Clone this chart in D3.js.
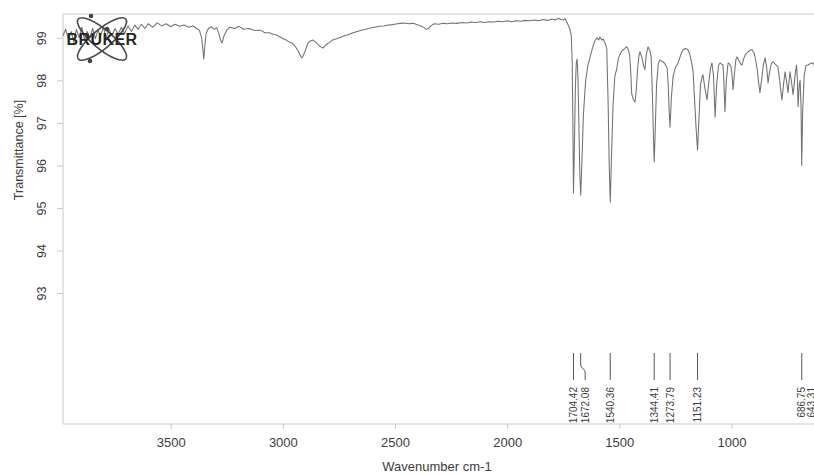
<!DOCTYPE html>
<html>
<head>
<meta charset="utf-8">
<script src="https://cdn.jsdelivr.net/npm/d3@7"></script>
<style>
  body { margin: 0; background: #fff; }
  svg { display: block; font-family: "Liberation Sans", Arial, sans-serif; }
</style>
</head>
<body>
<svg id="ir"></svg>
<script>
// spectrum (wavenumber cm-1 / transmittance %)
const wavenumber = [
  3980, 3968, 3955, 3944, 3932, 3920, 3908, 3896, 3884, 3872,
  3860, 3848, 3836, 3824, 3812, 3800, 3788, 3775, 3762, 3748,
  3734, 3720, 3705, 3690, 3675, 3660, 3645, 3630, 3615, 3600,
  3580, 3560, 3540, 3520, 3500, 3480, 3460, 3440, 3420, 3400,
  3385, 3372, 3362, 3356, 3352, 3348, 3342, 3332, 3320, 3306,
  3295, 3285, 3278, 3271, 3262, 3250, 3235, 3215, 3195, 3175,
  3150, 3125, 3100, 3080, 3060, 3040, 3025, 3012, 2998, 2985,
  2972, 2960, 2945, 2930, 2920, 2914, 2906, 2900, 2888, 2876,
  2866, 2850, 2835, 2821, 2805, 2790, 2777, 2760, 2740, 2725,
  2710, 2687, 2668, 2650, 2630, 2610, 2590, 2570, 2550, 2530,
  2510, 2490, 2475, 2460, 2440, 2420, 2400, 2385, 2370, 2360,
  2350, 2340, 2325, 2305, 2285, 2265, 2245, 2225, 2200, 2180,
  2160, 2140, 2120, 2100, 2080, 2060, 2040, 2020, 2000, 1980,
  1960, 1940, 1920, 1900, 1880, 1860, 1840, 1820, 1800, 1785,
  1770, 1760, 1750, 1742, 1735, 1728, 1720, 1714, 1710, 1707,
  1704.42, 1700, 1696, 1692, 1688, 1684, 1680, 1676, 1672.08, 1666,
  1660, 1650, 1640, 1630, 1620, 1610, 1600, 1592, 1586, 1578,
  1571, 1562, 1556, 1550, 1545, 1540.36, 1535, 1528, 1520, 1515,
  1512, 1505, 1498, 1490, 1482, 1475, 1467, 1460, 1454, 1448,
  1445, 1438, 1430, 1424, 1418, 1412, 1408, 1400, 1392, 1386,
  1380, 1372, 1364, 1358, 1352, 1348, 1344.41, 1340, 1334, 1326,
  1319, 1312, 1305, 1296, 1287, 1282, 1278, 1273.79, 1268, 1260,
  1250, 1238, 1226, 1216, 1205, 1194, 1185, 1177, 1171, 1165,
  1158, 1151.23, 1145, 1138, 1130, 1127, 1118, 1109, 1100, 1093,
  1087, 1080, 1073, 1066, 1058, 1051, 1044, 1038, 1034, 1029,
  1023, 1015, 1008, 1002, 997, 993, 986, 980, 975, 965,
  958, 953, 946, 939, 930, 920, 908, 900, 895, 885,
  878, 873, 866, 858, 850, 843, 837, 830, 822, 815,
  805, 793, 785, 779, 775, 768, 761, 755, 748, 743,
  739, 732, 725, 717, 710, 706, 703, 698, 694, 690,
  686.75, 683, 676, 668, 658, 648, 636, 625, 615, 605
];
const transmittance = [
  99.05, 99.2, 98.95, 99.15, 98.9, 99.2, 99.0, 99.25, 98.95, 99.15,
  99.0, 99.22, 98.98, 99.18, 99.05, 99.25, 99.0, 99.2, 99.05, 99.22,
  99.08, 99.25, 99.1, 99.28, 99.15, 99.3, 99.2, 99.32, 99.22, 99.33,
  99.25, 99.35, 99.28, 99.33, 99.26, 99.32, 99.27, 99.3, 99.25, 99.28,
  99.22, 99.18, 99.0, 98.7, 98.5, 98.8, 99.1, 99.22, 99.26, 99.2,
  99.24, 99.1, 98.95, 98.88, 99.05, 99.18, 99.25, 99.22, 99.27, 99.2,
  99.22, 99.17, 99.18, 99.12, 99.12, 99.08, 99.06, 99.02, 98.98, 98.95,
  98.9, 98.88, 98.8, 98.68, 98.56, 98.53, 98.62, 98.7, 98.88, 98.93,
  98.95, 98.88, 98.8, 98.76, 98.85, 98.9, 98.95, 98.98, 99.02, 99.05,
  99.07, 99.12, 99.15, 99.18, 99.2, 99.23, 99.25, 99.27, 99.28, 99.3,
  99.31, 99.33, 99.34, 99.35, 99.33, 99.34, 99.31, 99.28, 99.24, 99.2,
  99.22, 99.28, 99.33, 99.32, 99.34, 99.33, 99.35, 99.34, 99.36, 99.35,
  99.37, 99.36, 99.38, 99.36, 99.38, 99.37, 99.39, 99.38, 99.4, 99.38,
  99.4, 99.39, 99.41, 99.4, 99.42, 99.4, 99.43, 99.41, 99.44, 99.42,
  99.46, 99.43, 99.42, 99.45, 99.38, 99.3, 99.2, 99.05, 98.4, 97.0,
  95.35, 96.5, 97.8, 98.4, 98.5, 98.0, 96.9, 95.8, 95.3, 96.2,
  97.2, 98.0, 98.35, 98.55, 98.75, 98.92, 99.0, 98.95, 99.02, 98.95,
  98.97, 98.85, 98.75, 97.5, 96.0, 95.14, 96.2, 97.4, 98.1, 98.2,
  98.25, 98.5, 98.6, 98.68, 98.72, 98.75, 98.79, 98.72, 98.6, 98.1,
  97.7, 97.55, 97.49, 97.8, 98.3, 98.6, 98.67, 98.55, 98.35, 98.25,
  98.6, 98.79, 98.7, 98.55, 97.6, 96.7, 96.08, 96.8, 97.9, 98.4,
  98.48, 98.45, 98.44, 98.38, 98.29, 97.9, 97.3, 96.9, 97.6, 98.1,
  98.3, 98.41, 98.6, 98.72, 98.75, 98.72, 98.6, 98.4, 98.2, 97.6,
  96.9, 96.36, 97.1, 97.9, 98.1, 98.13, 97.8, 97.54, 98.0, 98.3,
  98.41, 98.1, 97.14, 97.9, 98.35, 98.41, 98.38, 98.36, 98.0, 97.26,
  98.0, 98.41, 98.38, 98.32, 98.1, 97.78, 98.2, 98.5, 98.55, 98.45,
  98.38, 98.36, 98.5, 98.6, 98.65, 98.7, 98.72, 98.65, 98.55, 98.25,
  97.9, 97.71, 98.0, 98.35, 98.53, 98.3, 97.94, 98.2, 98.4, 98.44,
  98.38, 98.32, 98.0, 97.7, 97.54, 97.9, 98.2, 98.0, 97.71, 98.0,
  98.2, 97.95, 97.66, 98.1, 98.36, 98.0, 97.38, 97.9, 98.0, 97.4,
  96.0, 97.2, 98.1, 98.35, 98.36, 98.4, 98.41, 98.3, 98.2, 98.3
];

// picked peaks (last one runs off the page edge)
const peakPositions = [1704.42, 1672.08, 1540.36, 1344.41, 1273.79, 1151.23, 686.75, 643.31];
const peakLabels = ["1704.42", "1672.08", "1540.36", "1344.41", "1273.79", "1151.23", "686.75", "643.31"];

const xTicks = [3500, 3000, 2500, 2000, 1500, 1000];
const yTicks = [93, 94, 95, 96, 97, 98, 99];

const width = 814, height = 475;
const plotLeft = 63, plotTop = 14, plotBottom = 424;

const svg = d3.select("#ir")
  .attr("width", width)
  .attr("height", height);

const x = d3.scaleLinear().domain([3980, 600]).range([plotLeft, 821.2]);
const y = d3.scaleLinear().domain([89.92, 99.56]).range([plotBottom, plotTop]);

const frame = "#c8c8c8", ink = "#3c3c3c";

// frame (right side runs off the page)
svg.append("path")
  .attr("d", `M${width + 5},${plotTop}H${plotLeft}V${plotBottom}H${width + 5}`)
  .attr("fill", "none")
  .attr("stroke", frame)
  .attr("stroke-width", 1);

// x axis
const xAxis = svg.append("g")
  .attr("transform", `translate(0,${plotBottom})`)
  .call(d3.axisBottom(x).tickValues(xTicks).tickSize(5).tickPadding(9).tickFormat(d3.format("d")));
xAxis.select(".domain").remove();
xAxis.selectAll("line").attr("stroke", frame);
xAxis.selectAll("text")
  .attr("fill", ink)
  .style("font-size", "13px")
  .style("font-family", "Liberation Sans, Arial, sans-serif");

svg.append("text")
  .attr("x", 437)
  .attr("y", 471)
  .attr("text-anchor", "middle")
  .attr("fill", ink)
  .style("font-size", "13px")
  .text("Wavenumber cm-1");

// y axis, labels turned
const yAxis = svg.append("g")
  .attr("transform", `translate(${plotLeft},0)`)
  .call(d3.axisLeft(y).tickValues(yTicks).tickSize(6).tickFormat(d3.format("d")));
yAxis.select(".domain").remove();
yAxis.selectAll("line").attr("stroke", frame);
yAxis.selectAll("text")
  .attr("x", null)
  .attr("dy", null)
  .attr("text-anchor", "middle")
  .attr("transform", "translate(-17,0) rotate(-90)")
  .attr("fill", ink)
  .style("font-size", "12.5px")
  .style("font-family", "Liberation Sans, Arial, sans-serif");

svg.append("text")
  .attr("transform", "translate(23,150) rotate(-90)")
  .attr("text-anchor", "middle")
  .attr("fill", ink)
  .style("font-size", "12.5px")
  .text("Transmittance [%]");

// spectrum
const spectrum = wavenumber.map((w, i) => ({ w, t: transmittance[i] }));
const line = d3.line()
  .x(d => x(d.w))
  .y(d => y(d.t));

svg.append("path")
  .datum(spectrum)
  .attr("d", line)
  .attr("fill", "none")
  .attr("stroke", "#717171")
  .attr("stroke-width", 1.05)
  .attr("stroke-linejoin", "round");

// peak ticks + labels
const peaks = peakPositions.map((p, i) => ({ p, label: peakLabels[i], shift: i === 1 ? 4.5 : 0 }));
const markTop = 353, markBottom = 380, labelTop = 387;

svg.append("g").selectAll("path")
  .data(peaks.filter(d => x(d.p) < width - 6))
  .join("path")
  .attr("d", d => {
    const px = x(d.p);
    if (!d.shift) return `M${px},${markTop}V${markBottom}`;
    return `M${px},${markTop}V${markTop + 11}C${px},${markTop + 17} ${px + d.shift},${markTop + 14} ${px + d.shift},${markTop + 21}V${markBottom}`;
  })
  .attr("fill", "none")
  .attr("stroke", "#555")
  .attr("stroke-width", 1);

svg.append("g").selectAll("text")
  .data(peaks)
  .join("text")
  .attr("transform", d => `translate(${x(d.p) + d.shift},${labelTop}) rotate(-90)`)
  .attr("dy", "0.35em")
  .attr("text-anchor", "end")
  .attr("fill", ink)
  .style("font-size", "10px")
  .text(d => d.label);

// Bruker logo
const logo = svg.append("g").attr("transform", "translate(102,39)");
[40, -40].forEach(a => {
  logo.append("ellipse")
    .attr("rx", 31).attr("ry", 9.5)
    .attr("transform", `rotate(${a})`)
    .attr("fill", "none")
    .attr("stroke", "#4a4a4a")
    .attr("stroke-width", 1.6);
});
[[-11, -23], [-12, 22], [5, -10]].forEach(([cx, cy]) => {
  logo.append("circle").attr("cx", cx).attr("cy", cy).attr("r", 2.3).attr("fill", "#444");
});
logo.append("text")
  .attr("x", 0)
  .attr("y", 6)
  .attr("text-anchor", "middle")
  .attr("fill", "#262626")
  .style("font-size", "16px")
  .style("font-weight", "bold")
  .style("letter-spacing", "0.4px")
  .text("BRUKER");
</script>
</body>
</html>
